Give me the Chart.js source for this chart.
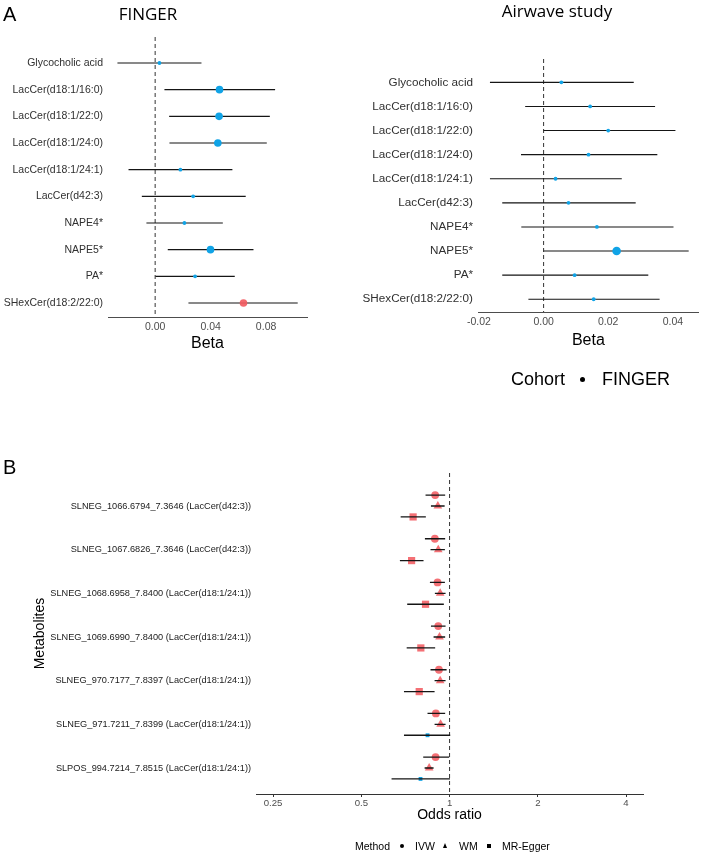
<!DOCTYPE html>
<html>
<head>
<meta charset="utf-8">
<script src="https://cdn.jsdelivr.net/npm/chart.js@4.4.1/dist/chart.umd.min.js"></script>
<style>
html,body{margin:0;padding:0;background:#fff;}
#wrap{position:relative;width:703px;height:854px;overflow:hidden;background:#fff;}
#wrap canvas{position:absolute;left:0;top:0;}
.t{position:absolute;white-space:nowrap;color:#000;line-height:1;font-family:'Liberation Sans',Arial,sans-serif;}
.ctr{text-align:center;width:300px;}
.os{font-family:'Open Sans',sans-serif;}
.key{position:absolute;background:#000;}
</style>
</head>
<body>
<div id="wrap">
  <canvas id="cA1" width="703" height="854"></canvas>
  <canvas id="cA2" width="703" height="854"></canvas>
  <canvas id="cB" width="703" height="854"></canvas>

  <div class="t" style="left:3px;top:4px;font-size:20px;">A</div>
  <div class="t os ctr" style="left:-2px;top:5px;font-size:17px;">FINGER</div>
  <div class="t os ctr" style="left:407px;top:2px;font-size:17px;">Airwave study</div>

  <div class="t" style="left:511px;top:370px;font-size:18px;">Cohort</div>
  <div class="key" style="left:580px;top:377px;width:5px;height:5px;border-radius:50%;"></div>
  <div class="t" style="left:602px;top:370px;font-size:18px;">FINGER</div>

  <div class="t" style="left:3px;top:457px;font-size:20px;">B</div>

  <div class="t" style="left:355px;top:841px;font-size:10.5px;">Method</div>
  <div class="key" style="left:400px;top:844px;width:4px;height:4px;border-radius:50%;"></div>
  <div class="t" style="left:415px;top:841px;font-size:10.5px;">IVW</div>
  <div class="key" style="left:443px;top:843px;width:0;height:0;background:none;border-left:2.5px solid transparent;border-right:2.5px solid transparent;border-bottom:5px solid #000;"></div>
  <div class="t" style="left:459px;top:841px;font-size:10.5px;">WM</div>
  <div class="key" style="left:487px;top:844px;width:4px;height:4px;"></div>
  <div class="t" style="left:502px;top:841px;font-size:10.5px;">MR-Egger</div>
</div>

<script>
// ---------------- Panel A data ----------------
const metabolitesA = ['Glycocholic acid','LacCer(d18:1/16:0)','LacCer(d18:1/22:0)','LacCer(d18:1/24:0)',
  'LacCer(d18:1/24:1)','LacCer(d42:3)','NAPE4*','NAPE5*','PA*','SHexCer(d18:2/22:0)'];

const fingerBeta  = [0.0031, 0.0464, 0.0461, 0.0452, 0.0182, 0.0274, 0.0211, 0.0399, 0.0288, 0.0637];
const fingerLower = [-0.0272, 0.0067, 0.0101, 0.0103, -0.0192, -0.0096, -0.0063, 0.0091, 0.0002, 0.0240];
const fingerUpper = [0.0334, 0.0865, 0.0827, 0.0805, 0.0557, 0.0653, 0.0488, 0.0709, 0.0574, 0.1028];
// 0 = not significant, 1 = nominally significant, 2 = significant after correction
const fingerSignif = [0, 1, 1, 1, 0, 0, 0, 1, 0, 2];

const airwaveBeta  = [0.0055, 0.0144, 0.0200, 0.0139, 0.0037, 0.0077, 0.0165, 0.0226, 0.0096, 0.0155];
const airwaveLower = [-0.0166, -0.0057, 0.0000, -0.0070, -0.0166, -0.0128, -0.0069, 0.0000, -0.0128, -0.0047];
const airwaveUpper = [0.0279, 0.0345, 0.0408, 0.0352, 0.0242, 0.0285, 0.0402, 0.0449, 0.0324, 0.0359];
const airwaveSignif = [0, 0, 0, 0, 0, 0, 0, 1, 0, 0];

const fingerTicks  = [0, 0.04, 0.08];
const airwaveTicks = [-0.02, 0, 0.02, 0.04];

// ---------------- Panel B data ----------------
const metabolitesB = [
  'SLNEG_1066.6794_7.3646 (LacCer(d42:3))',
  'SLNEG_1067.6826_7.3646 (LacCer(d42:3))',
  'SLNEG_1068.6958_7.8400 (LacCer(d18:1/24:1))',
  'SLNEG_1069.6990_7.8400 (LacCer(d18:1/24:1))',
  'SLNEG_970.7177_7.8397 (LacCer(d18:1/24:1))',
  'SLNEG_971.7211_7.8399 (LacCer(d18:1/24:1))',
  'SLPOS_994.7214_7.8515 (LacCer(d18:1/24:1))'
];
const ivwOR    = [0.893, 0.891, 0.910, 0.915, 0.920, 0.898, 0.896];
const ivwLower = [0.828, 0.824, 0.857, 0.864, 0.861, 0.841, 0.813];
const ivwUpper = [0.966, 0.966, 0.964, 0.969, 0.977, 0.966, 0.997];
const wmOR     = [0.912, 0.915, 0.929, 0.924, 0.929, 0.932, 0.852];
const wmLower  = [0.864, 0.861, 0.891, 0.882, 0.889, 0.889, 0.822];
const wmUpper  = [0.962, 0.964, 0.969, 0.966, 0.969, 0.969, 0.882];
const eggerOR    = [0.751, 0.742, 0.828, 0.798, 0.788, 0.841, 0.796];
const eggerLower = [0.681, 0.677, 0.717, 0.714, 0.699, 0.699, 0.634];
const eggerUpper = [0.830, 0.815, 0.956, 0.893, 0.889, 1.005, 1.003];
const eggerSignif = [1, 1, 1, 1, 1, 0, 0];
const orTicks = [0.25, 0.5, 1, 2, 4];

// ---------------- styling / helpers ----------------
const FONT = "'Liberation Sans', Arial, sans-serif";
const W = 703, H = 854;
const BLUE = '#10A3E6';
const RED = 'rgba(242,92,98,0.88)';
const LINE = '#151515';

function whiskerData(lower, upper, ys) {
  const d = [];
  lower.forEach((lo, i) => { d.push({x: lo, y: ys[i]}, {x: upper[i], y: ys[i]}, {x: null, y: null}); });
  return d;
}

function baseOptions(area, hx) {
  return {
    responsive: false, animation: false, devicePixelRatio: 1, events: [],
    layout: {padding: {left: 0, top: area.top, right: W - area.right, bottom: H - area.bottom - hx}},
    plugins: {legend: {display: false}, tooltip: {enabled: false}}
  };
}

function forestA(id, beta, lower, upper, signif, ticksX, cfg) {
  const rows = metabolitesA.map((_, i) => i);
  const hx = cfg.titleY + 16 * 1.2 / 2 - cfg.area.bottom;
  const opts = baseOptions(cfg.area, hx);
  opts.scales = {
    x: {
      type: 'linear', min: cfg.xMin, max: cfg.xMax,
      afterBuildTicks: s => { s.ticks = ticksX.map(v => ({value: v})); },
      afterFit: s => { s.height = hx; },
      grid: {display: false, drawTicks: false},
      border: {display: true, color: '#4d4d4d', width: 1},
      ticks: {padding: 4, color: '#4d4d4d', font: {family: FONT, size: 10.5},
              callback: v => v.toFixed(2)},
      title: {display: true, text: 'Beta', color: '#000', font: {family: FONT, size: 16}, padding: 0}
    },
    y: {
      type: 'linear', reverse: true, min: cfg.yMin, max: cfg.yMax,
      afterBuildTicks: s => { s.ticks = rows.map(v => ({value: v})); },
      afterFit: s => { s.width = cfg.area.left; },
      grid: {display: false, drawTicks: false},
      border: {display: false},
      ticks: {padding: 5, color: '#303030', font: {family: FONT, size: cfg.labelSize},
              callback: v => metabolitesA[v] ?? ''}
    }
  };
  new Chart(document.getElementById(id), {
    type: 'scatter',
    data: {datasets: [
      {type: 'scatter', data: beta.map((b, i) => ({x: b, y: rows[i]})),
       pointRadius: signif.map(s => s ? cfg.bigR : cfg.smallR),
       pointBackgroundColor: signif.map(s => s === 2 ? 'rgba(242,92,98,0.92)' : BLUE),
       pointBorderWidth: 0, order: 0},
      {type: 'line', data: whiskerData(lower, upper, rows), borderColor: LINE, borderWidth: 1.1,
       pointRadius: 0, spanGaps: false, order: 1},
      {type: 'line', data: [{x: 0, y: cfg.yMin}, {x: 0, y: cfg.yMax}], borderColor: '#333',
       borderWidth: 1, borderDash: [4, 3], pointRadius: 0, order: 2}
    ]},
    options: opts
  });
}

forestA('cA1', fingerBeta, fingerLower, fingerUpper, fingerSignif, fingerTicks, {
  area: {left: 108, right: 307, top: 37, bottom: 317},
  xMin: -0.034, xMax: 0.1095, yMin: -0.975, yMax: 9.525, titleY: 343.5,
  labelSize: 10.5, bigR: 3.8, smallR: 1.9
});
forestA('cA2', airwaveBeta, airwaveLower, airwaveUpper, airwaveSignif, airwaveTicks, {
  area: {left: 478, right: 700, top: 59, bottom: 312},
  xMin: -0.0203, xMax: 0.048, yMin: -0.97, yMax: 9.53, titleY: 341,
  labelSize: 11.7, bigR: 4.3, smallR: 1.9
});

// ---------------- Panel B ----------------
(function () {
  const area = {left: 256, right: 643, top: 473, bottom: 794};
  const groups = metabolitesB.map((_, i) => i);
  const yIVW = groups.map(g => g - 0.25), yWM = groups.slice(), yEgger = groups.map(g => g + 0.25);
  const yMin = -0.756, yMax = 6.595;
  const hx = 815 + 14 * 1.2 / 2 - area.bottom;
  const opts = baseOptions(area, hx);
  opts.scales = {
    x: {
      type: 'logarithmic', min: 0.2186, max: 4.57,
      afterBuildTicks: s => { s.ticks = orTicks.map(v => ({value: v})); },
      afterFit: s => { s.height = hx; },
      grid: {display: true, drawOnChartArea: false, drawTicks: true, tickLength: 3, color: '#333', lineWidth: 1},
      border: {display: true, color: '#333', width: 1},
      ticks: {padding: 0.5, color: '#4d4d4d', font: {family: FONT, size: 9.6}, callback: v => String(v)},
      title: {display: true, text: 'Odds ratio', color: '#000', font: {family: FONT, size: 14}, padding: 0}
    },
    y: {
      type: 'linear', reverse: true, min: yMin, max: yMax,
      afterBuildTicks: s => { s.ticks = groups.map(v => ({value: v})); },
      afterFit: s => { s.width = area.left; },
      grid: {display: false, drawTicks: false},
      border: {display: false},
      ticks: {padding: 5, color: '#1a1a1a', font: {family: FONT, size: 9.2}, callback: v => metabolitesB[v] ?? ''},
      title: {display: true, text: 'Metabolites', color: '#000', font: {family: FONT, size: 14}, padding: {top: 32, bottom: 0}}
    }
  };
  const allLower = [...ivwLower, ...wmLower, ...eggerLower];
  const allUpper = [...ivwUpper, ...wmUpper, ...eggerUpper];
  const allY = [...yIVW, ...yWM, ...yEgger];
  new Chart(document.getElementById('cB'), {
    type: 'scatter',
    data: {datasets: [
      {type: 'line', data: whiskerData(allLower, allUpper, allY), borderColor: LINE, borderWidth: 1.3,
       pointRadius: 0, spanGaps: false, order: 0},
      {type: 'line', data: [{x: 1, y: yMin}, {x: 1, y: yMax}], borderColor: '#333',
       borderWidth: 1, borderDash: [4, 3], pointRadius: 0, order: 1},
      {type: 'scatter', label: 'IVW', data: ivwOR.map((v, i) => ({x: v, y: yIVW[i]})),
       pointStyle: 'circle', pointRadius: 3.9, pointBackgroundColor: RED, pointBorderWidth: 0, order: 2},
      {type: 'scatter', label: 'WM', data: wmOR.map((v, i) => ({x: v, y: yWM[i]})),
       pointStyle: 'triangle', pointRadius: 5, pointBackgroundColor: RED, pointBorderWidth: 0, order: 2},
      {type: 'scatter', label: 'MR-Egger', data: eggerOR.map((v, i) => ({x: v, y: yEgger[i]})),
       pointStyle: 'rect', pointRadius: eggerSignif.map(s => s ? 5.1 : 2.7),
       pointBackgroundColor: eggerSignif.map(s => s ? RED : BLUE), pointBorderWidth: 0, order: 2}
    ]},
    options: opts
  });
})();
</script>
</body>
</html>
